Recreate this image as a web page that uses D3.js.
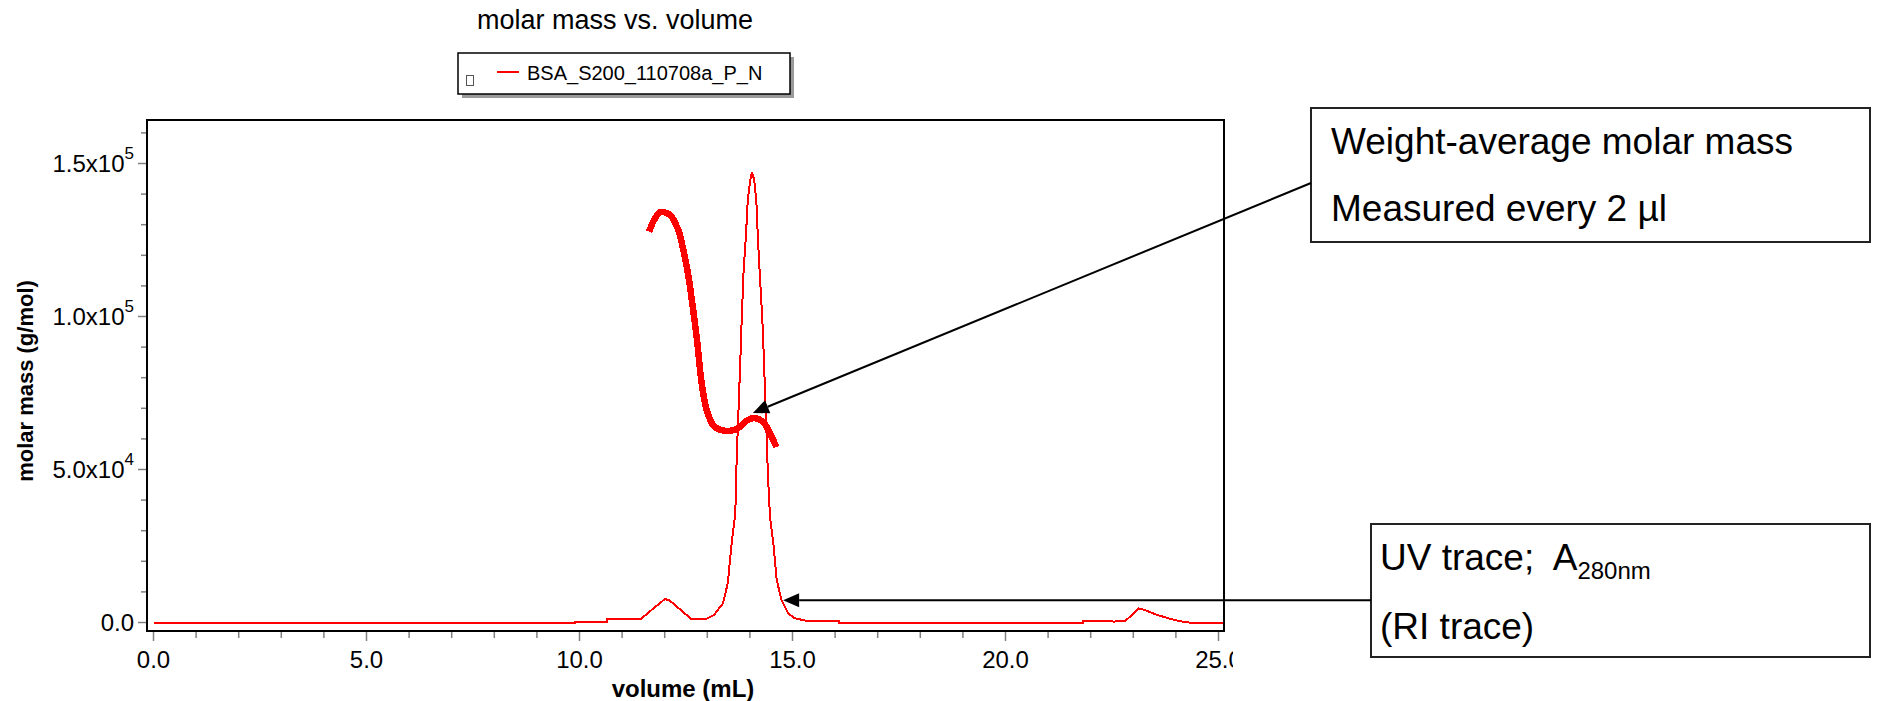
<!DOCTYPE html>
<html>
<head>
<meta charset="utf-8">
<script src="https://cdn.jsdelivr.net/npm/d3@7"></script>
<style>
  body { margin: 0; background: #fff; }
  svg { display: block; font-family: "Liberation Sans", Arial, sans-serif; }
</style>
</head>
<body>
<svg id="chart"></svg>
<script>
// chart size
const WidthTotal = 1883;
const HeightTotal = 701;

// data: volume (mL), value
const molarMass = [
  [11.66, 128700], [11.75, 131500], [11.89, 134100], [12.0, 134000], [12.13, 133100],
  [12.32, 128200], [12.44, 121600], [12.56, 112900], [12.66, 103000], [12.76, 92100],
  [12.87, 78000], [12.99, 69200], [13.15, 64300], [13.38, 62700], [13.69, 63200],
  [13.93, 66000], [14.12, 66800], [14.32, 65400], [14.48, 61600], [14.59, 58300]
];

const uvTrace = [
  [0, 0], [9.9, 0], [9.9, 300], [10.65, 300], [10.65, 1000], [11.43, 1000],
  [11.7, 4200], [12.0, 7600], [12.1, 7400], [12.4, 3800], [12.64, 1000], [12.95, 1000],
  [13.16, 2500], [13.37, 6300], [13.48, 12800], [13.58, 27000], [13.64, 33500],
  [13.67, 40000], [13.69, 54200], [13.73, 68400], [13.77, 83600], [13.81, 99900],
  [13.85, 114100], [13.91, 127200], [13.95, 138100], [14.01, 144600], [14.05, 147300],
  [14.10, 144600], [14.15, 138100], [14.19, 125000], [14.24, 111900], [14.30, 96700],
  [14.34, 81400], [14.38, 66200], [14.41, 53100], [14.45, 40000], [14.48, 33500],
  [14.55, 25900], [14.63, 13900], [14.74, 7400], [14.90, 3000], [15.05, 1400],
  [15.31, 600], [16.1, 600], [16.1, 0], [21.82, 0], [21.82, 500], [22.5, 500],
  [22.55, 200], [22.6, 600], [22.82, 600], [23.13, 4600], [23.25, 4200], [23.55, 2500],
  [23.97, 800], [24.23, 100], [24.3, 0], [25.13, 0]
];

// ticks
const xMajor = [0, 5, 10, 15, 20, 25];
const xMinor = d3.range(0, 26, 1);
const yMajor = [0, 50000, 100000, 150000];
const yMinor = d3.range(0, 160001, 10000);
const yTickText = [["0.0", ""], ["5.0x10", "4"], ["1.0x10", "5"], ["1.5x10", "5"]];

// texts
const chartTitle = "molar mass vs. volume";
const legendName = "BSA_S200_110708a_P_N";
const xTitle = "volume (mL)";
const yTitle = "molar mass (g/mol)";

// annotations: arrow tip in data units
const noteMass = { vol: 14.07, val: 68500, lines: ["Weight-average molar mass", "Measured every 2 \u00b5l"] };
const noteUV = { vol: 14.78, val: 7300 };

const MySpace = d3.select("#chart")
  .attr("width", WidthTotal)
  .attr("height", HeightTotal);

// plot frame
const frame = { left: 147, right: 1224, top: 120, bottom: 631 };

const x = d3.scaleLinear().domain([0, 25]).range([153.5, 1218.5]);
const y = d3.scaleLinear().domain([0, 150000]).range([622.5, 163.5]);

// title
MySpace.append("text")
  .attr("x", 615).attr("y", 29)
  .attr("text-anchor", "middle")
  .attr("font-size", 27)
  .text(chartTitle);

// legend with shadow
const lg = MySpace.append("g");
lg.append("rect").attr("x", 462).attr("y", 57).attr("width", 332).attr("height", 41).attr("fill", "#9a9a9a");
lg.append("rect").attr("x", 458).attr("y", 53).attr("width", 332).attr("height", 41)
  .attr("fill", "#fff").attr("stroke", "#000").attr("stroke-width", 1.5);
lg.append("rect").attr("x", 466.5).attr("y", 75.5).attr("width", 7).attr("height", 10)
  .attr("fill", "none").attr("stroke", "#555").attr("stroke-width", 1);
lg.append("line").attr("x1", 497).attr("x2", 519).attr("y1", 72).attr("y2", 72)
  .attr("stroke", "red").attr("stroke-width", 2);
lg.append("text").attr("x", 527).attr("y", 80).attr("font-size", 20).text(legendName);

// x axis ticks
const gx = MySpace.append("g");
gx.selectAll(".xminor").data(xMinor).enter().append("line")
  .attr("x1", d => x(d)).attr("x2", d => x(d))
  .attr("y1", frame.bottom).attr("y2", d => frame.bottom + (xMajor.includes(d) ? 10 : 7))
  .attr("stroke", "#808080").attr("stroke-width", 1.5);

MySpace.append("clipPath").attr("id", "xclip")
  .append("rect").attr("x", 0).attr("y", 0).attr("width", 1233).attr("height", HeightTotal);

gx.append("g").attr("clip-path", "url(#xclip)")
  .selectAll("text").data(xMajor).enter().append("text")
  .attr("x", d => x(d)).attr("y", 668)
  .attr("text-anchor", "middle")
  .attr("font-size", 24)
  .text(d => d.toFixed(1));

// y axis ticks
const gy = MySpace.append("g");
gy.selectAll("line").data(yMinor).enter().append("line")
  .attr("y1", d => y(d)).attr("y2", d => y(d))
  .attr("x1", frame.left).attr("x2", d => frame.left - (yMajor.includes(d) ? 9 : 6))
  .attr("stroke", "#808080").attr("stroke-width", 1.5);

const ylab = gy.selectAll("text").data(yMajor).enter().append("text")
  .attr("x", 134).attr("y", d => y(d) + 8)
  .attr("text-anchor", "end")
  .attr("font-size", 24);
ylab.append("tspan").text((d, i) => yTickText[i][0]);
ylab.append("tspan").attr("dy", -13).attr("font-size", 17).text((d, i) => yTickText[i][1]);

// axis titles
MySpace.append("text")
  .attr("x", 683).attr("y", 697)
  .attr("text-anchor", "middle")
  .attr("font-size", 24).attr("font-weight", "bold")
  .text(xTitle);

MySpace.append("text")
  .attr("transform", "translate(33,381) rotate(-90)")
  .attr("text-anchor", "middle")
  .attr("font-size", 22).attr("font-weight", "bold")
  .text(yTitle);

// traces
const line = d3.line().x(d => x(d[0])).y(d => y(d[1]));

MySpace.append("path")
  .datum(uvTrace)
  .attr("d", line)
  .attr("fill", "none")
  .attr("stroke", "red")
  .attr("stroke-width", 2)
  .attr("shape-rendering", "crispEdges");

MySpace.append("path")
  .datum(molarMass)
  .attr("d", line.curve(d3.curveCatmullRom))
  .attr("fill", "none")
  .attr("stroke", "red")
  .attr("stroke-width", 6.5)
  .attr("stroke-linecap", "square")
  .attr("shape-rendering", "crispEdges");

// frame
MySpace.append("rect")
  .attr("x", frame.left).attr("y", frame.top)
  .attr("width", frame.right - frame.left).attr("height", frame.bottom - frame.top)
  .attr("fill", "none").attr("stroke", "#000").attr("stroke-width", 2);

// annotation boxes
function arrow(x1, y1, tx, ty) {
  const ang = Math.atan2(ty - y1, tx - x1);
  const len = 16, half = 7;
  const bx = tx - len * Math.cos(ang), by = ty - len * Math.sin(ang);
  MySpace.append("line")
    .attr("x1", x1).attr("y1", y1).attr("x2", bx).attr("y2", by)
    .attr("stroke", "#000").attr("stroke-width", 2);
  const px = -Math.sin(ang) * half, py = Math.cos(ang) * half;
  MySpace.append("path")
    .attr("d", `M${tx},${ty}L${bx + px},${by + py}L${bx - px},${by - py}Z`)
    .attr("fill", "#000");
}

// box 1
const b1 = { x: 1311, y: 108, w: 559, h: 134 };
MySpace.append("rect").attr("x", b1.x).attr("y", b1.y).attr("width", b1.w).attr("height", b1.h)
  .attr("fill", "#fff").attr("stroke", "#222").attr("stroke-width", 2);
MySpace.selectAll(".n1").data(noteMass.lines).enter().append("text")
  .attr("x", b1.x + 20).attr("y", (d, i) => b1.y + 46 + i * 67)
  .attr("font-size", 37)
  .text(d => d);
arrow(b1.x, 183, x(noteMass.vol), y(noteMass.val));

// box 2
const b2 = { x: 1371, y: 524, w: 499, h: 133 };
MySpace.append("rect").attr("x", b2.x).attr("y", b2.y).attr("width", b2.w).attr("height", b2.h)
  .attr("fill", "#fff").attr("stroke", "#222").attr("stroke-width", 2);
const t2 = MySpace.append("text").attr("x", b2.x + 9).attr("y", b2.y + 46).attr("font-size", 37)
  .attr("xml:space", "preserve");
t2.append("tspan").text("UV trace;  A");
t2.append("tspan").attr("dy", 9).attr("font-size", 24).text("280nm");
MySpace.append("text").attr("x", b2.x + 9).attr("y", b2.y + 115).attr("font-size", 37).text("(RI trace)");
arrow(b2.x, y(noteUV.val), x(noteUV.vol), y(noteUV.val));
</script>
</body>
</html>
